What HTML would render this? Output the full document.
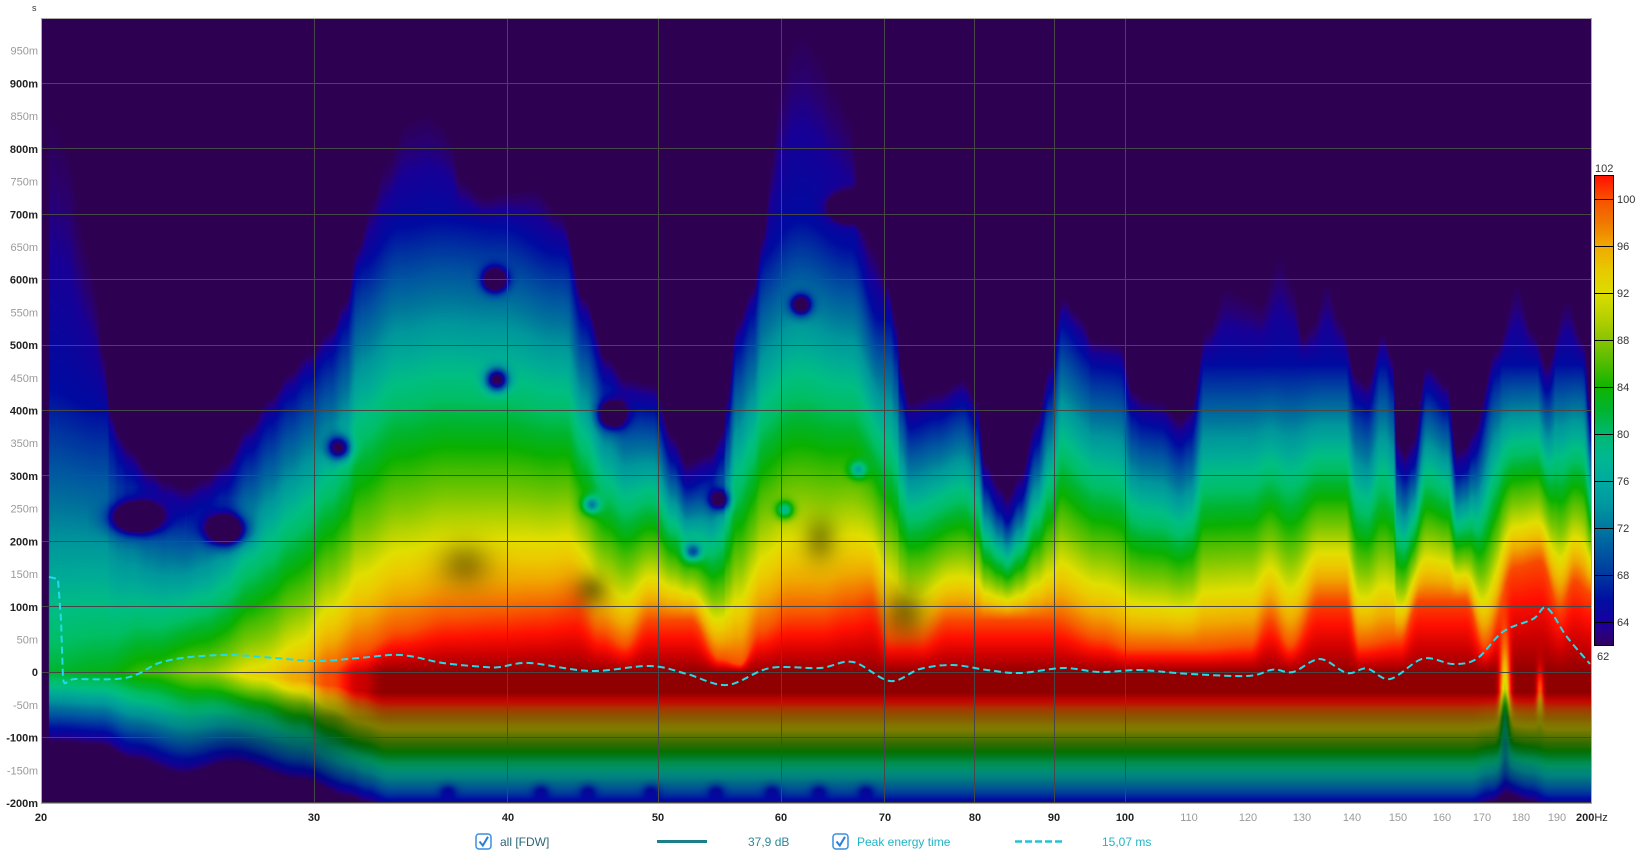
<!DOCTYPE html>
<html><head><meta charset="utf-8">
<style>
html,body{margin:0;padding:0;background:#fff;width:1649px;height:855px;overflow:hidden;}
#wrap{position:relative;width:1649px;height:855px;}
#c{position:absolute;left:41px;top:18px;background:#2e0052;}
svg{position:absolute;left:0;top:0;}
text{font-family:"Liberation Sans",sans-serif;}
</style></head>
<body><div id="wrap">
<canvas id="c" width="1551" height="785"></canvas>
<svg width="1649" height="855" viewBox="0 0 1649 855" xmlns="http://www.w3.org/2000/svg">
<defs>
<linearGradient id="cb" x1="0" y1="0" x2="0" y2="1">
<stop offset="0" stop-color="#ff1000"/>
<stop offset="0.05" stop-color="#f85000"/>
<stop offset="0.10" stop-color="#f07800"/>
<stop offset="0.15" stop-color="#f0a800"/>
<stop offset="0.20" stop-color="#e8c800"/>
<stop offset="0.25" stop-color="#dcdc00"/>
<stop offset="0.30" stop-color="#b8d000"/>
<stop offset="0.35" stop-color="#88c400"/>
<stop offset="0.40" stop-color="#50bc00"/>
<stop offset="0.45" stop-color="#10b400"/>
<stop offset="0.50" stop-color="#00b430"/>
<stop offset="0.55" stop-color="#00b870"/>
<stop offset="0.60" stop-color="#00b890"/>
<stop offset="0.65" stop-color="#00aaa0"/>
<stop offset="0.70" stop-color="#0098a0"/>
<stop offset="0.75" stop-color="#0078a0"/>
<stop offset="0.80" stop-color="#0058a0"/>
<stop offset="0.85" stop-color="#0038a0"/>
<stop offset="0.90" stop-color="#0010a0"/>
<stop offset="0.95" stop-color="#1800a0"/>
<stop offset="0.975" stop-color="#2a0080"/>
<stop offset="1" stop-color="#300060"/>
</linearGradient>
</defs>
<!-- gridlines -->
<g stroke="#474747" stroke-width="1" shape-rendering="crispEdges">
<line x1="41" x2="1592" y1="83.5" y2="83.5"/>
<line x1="41" x2="1592" y1="148.5" y2="148.5"/>
<line x1="41" x2="1592" y1="214.5" y2="214.5"/>
<line x1="41" x2="1592" y1="279.5" y2="279.5"/>
<line x1="41" x2="1592" y1="345.5" y2="345.5"/>
<line x1="41" x2="1592" y1="410.5" y2="410.5"/>
<line x1="41" x2="1592" y1="475.5" y2="475.5"/>
<line x1="41" x2="1592" y1="541.5" y2="541.5"/>
<line x1="41" x2="1592" y1="606.5" y2="606.5"/>
<line x1="41" x2="1592" y1="672.5" y2="672.5"/>
<line x1="41" x2="1592" y1="737.5" y2="737.5"/>
<line x1="41" x2="1592" y1="802.5" y2="802.5"/>
<line x1="314.5" x2="314.5" y1="18" y2="803"/>
<line x1="507.5" x2="507.5" y1="18" y2="803"/>
<line x1="658.5" x2="658.5" y1="18" y2="803"/>
<line x1="781.5" x2="781.5" y1="18" y2="803"/>
<line x1="884.5" x2="884.5" y1="18" y2="803"/>
<line x1="974.5" x2="974.5" y1="18" y2="803"/>
<line x1="1054.5" x2="1054.5" y1="18" y2="803"/>
<line x1="1125.5" x2="1125.5" y1="18" y2="803"/>
</g>
<!-- peak energy dashed line -->
<path id="pe" fill="none" stroke="#22dbe8" stroke-width="2" stroke-dasharray="7,4" stroke-linejoin="round"
d="M49,577 L59,579 L61,600 L63,679 L117,679 L159,663 L232,655 L317,661 L401,655 L485,667 L590,671 L650,666 L727,685 L770,668 L820,668 L853,662 L890,681 L953,665 L1063,668 L1247,676 L1320,659 L1390,679 L1477,658.6 L1547,608 L1590,664"/>
<!-- frame -->
<rect x="41.5" y="18.5" width="1550" height="785" fill="none" stroke="#ababab" stroke-width="1" shape-rendering="crispEdges"/>
<!-- unit -->
<text x="32" y="11" font-size="9" fill="#333">s</text>
<!-- y labels -->
<g font-size="11" text-anchor="end">
<text x="38" y="54.7" fill="#9a9a9a">950m</text>
<text x="38" y="87.4" fill="#222" font-weight="bold">900m</text>
<text x="38" y="120.1" fill="#9a9a9a">850m</text>
<text x="38" y="152.8" fill="#222" font-weight="bold">800m</text>
<text x="38" y="185.5" fill="#9a9a9a">750m</text>
<text x="38" y="218.3" fill="#222" font-weight="bold">700m</text>
<text x="38" y="251" fill="#9a9a9a">650m</text>
<text x="38" y="283.7" fill="#222" font-weight="bold">600m</text>
<text x="38" y="316.4" fill="#9a9a9a">550m</text>
<text x="38" y="349.1" fill="#222" font-weight="bold">500m</text>
<text x="38" y="381.8" fill="#9a9a9a">450m</text>
<text x="38" y="414.5" fill="#222" font-weight="bold">400m</text>
<text x="38" y="447.2" fill="#9a9a9a">350m</text>
<text x="38" y="479.9" fill="#222" font-weight="bold">300m</text>
<text x="38" y="512.6" fill="#9a9a9a">250m</text>
<text x="38" y="545.3" fill="#222" font-weight="bold">200m</text>
<text x="38" y="578.1" fill="#9a9a9a">150m</text>
<text x="38" y="610.8" fill="#222" font-weight="bold">100m</text>
<text x="38" y="643.5" fill="#9a9a9a">50m</text>
<text x="38" y="676.2" fill="#222" font-weight="bold">0</text>
<text x="38" y="708.9" fill="#9a9a9a">-50m</text>
<text x="38" y="741.6" fill="#222" font-weight="bold">-100m</text>
<text x="38" y="774.3" fill="#9a9a9a">-150m</text>
<text x="38" y="807" fill="#222" font-weight="bold">-200m</text>
</g>
<!-- x labels -->
<g font-size="11" text-anchor="middle">
<text x="41" y="821" fill="#222" font-weight="bold">20</text>
<text x="314" y="821" fill="#222" font-weight="bold">30</text>
<text x="508" y="821" fill="#222" font-weight="bold">40</text>
<text x="658" y="821" fill="#222" font-weight="bold">50</text>
<text x="781" y="821" fill="#222" font-weight="bold">60</text>
<text x="885" y="821" fill="#222" font-weight="bold">70</text>
<text x="975" y="821" fill="#222" font-weight="bold">80</text>
<text x="1054" y="821" fill="#222" font-weight="bold">90</text>
<text x="1125" y="821" fill="#222" font-weight="bold">100</text>
<text x="1189" y="821" fill="#9a9a9a">110</text>
<text x="1248" y="821" fill="#9a9a9a">120</text>
<text x="1302" y="821" fill="#9a9a9a">130</text>
<text x="1352" y="821" fill="#9a9a9a">140</text>
<text x="1398" y="821" fill="#9a9a9a">150</text>
<text x="1442" y="821" fill="#9a9a9a">160</text>
<text x="1482" y="821" fill="#9a9a9a">170</text>
<text x="1521" y="821" fill="#9a9a9a">180</text>
<text x="1557" y="821" fill="#9a9a9a">190</text>
</g>
<text x="1576" y="821" font-size="11" fill="#222" font-weight="bold">200<tspan font-weight="normal">Hz</tspan></text>
<!-- colorbar -->
<rect x="1594.5" y="175.5" width="19" height="470" fill="url(#cb)" stroke="#000" stroke-width="1"/>
<g stroke="#000" stroke-width="1" shape-rendering="crispEdges">
<line x1="1594" x2="1614" y1="199.5" y2="199.5"/>
<line x1="1594" x2="1614" y1="246.5" y2="246.5"/>
<line x1="1594" x2="1614" y1="293.5" y2="293.5"/>
<line x1="1594" x2="1614" y1="340.5" y2="340.5"/>
<line x1="1594" x2="1614" y1="387.5" y2="387.5"/>
<line x1="1594" x2="1614" y1="434.5" y2="434.5"/>
<line x1="1594" x2="1614" y1="481.5" y2="481.5"/>
<line x1="1594" x2="1614" y1="528.5" y2="528.5"/>
<line x1="1594" x2="1614" y1="575.5" y2="575.5"/>
<line x1="1594" x2="1614" y1="622.5" y2="622.5"/>
</g>
<g font-size="11" fill="#333">
<text x="1595" y="172">102</text>
<text x="1617" y="203">100</text>
<text x="1617" y="250">96</text>
<text x="1617" y="297">92</text>
<text x="1617" y="344">88</text>
<text x="1617" y="391">84</text>
<text x="1617" y="438">80</text>
<text x="1617" y="485">76</text>
<text x="1617" y="532">72</text>
<text x="1617" y="579">68</text>
<text x="1617" y="626">64</text>
<text x="1597" y="660">62</text>
</g>
<!-- legend -->
<rect x="476" y="834" width="15" height="15" rx="3" fill="#fff" stroke="#3a8ee0" stroke-width="1.5"/>
<path d="M479.5 841.5 L482.8 845.5 L488 836.8" fill="none" stroke="#2a7fd8" stroke-width="2"/>
<text x="500" y="846" font-size="12" fill="#2a6478">all [FDW]</text>
<line x1="657" x2="707" y1="841.5" y2="841.5" stroke="#1a7f88" stroke-width="3"/>
<text x="748" y="846" font-size="12" fill="#2a8898">37,9 dB</text>
<rect x="833" y="834" width="15" height="15" rx="3" fill="#fff" stroke="#3a8ee0" stroke-width="1.5"/>
<path d="M836.5 841.5 L839.8 845.5 L845 836.8" fill="none" stroke="#2a7fd8" stroke-width="2"/>
<text x="857" y="846" font-size="12" fill="#1fb5c5">Peak energy time</text>
<line x1="1015" x2="1063" y1="841.5" y2="841.5" stroke="#20c4d4" stroke-width="2.5" stroke-dasharray="7,3"/>
<text x="1102" y="846" font-size="12" fill="#1fb5c5">15,07 ms</text>
</svg>
</div>
<script>
(function(){
var W=1551,HH=785,K=0.65417;
function tY(y){return 1000-(y-18)/K;}
function ip(p,x){
  if(x<=p[0][0])return p[0][1];
  for(var i=1;i<p.length;i++){
    if(x<=p[i][0]){var a=p[i-1],b=p[i],f=(x-a[0])/(b[0]-a[0]),g=(1-Math.cos(f*Math.PI))/2;return a[1]+(b[1]-a[1])*g;}
  }
  return p[p.length-1][1];
}
/* smooth dashed line */
var pts=[[49,577],[58,579],[61,620],[63,679],[75,679],[117,679],[138,674],[159,663],[190,657],[232,655],[275,658],[317,661],[359,658],[401,655],[443,663],[485,667],[500,667],[530,663],[590,671],[650,666],[687,674],[727,685],[770,668],[820,668],[853,662],[890,681],[920,669],[953,665],[987,670],[1020,673],[1063,668],[1100,672],[1140,670],[1183,673.5],[1247,676],[1273,669.6],[1293,672],[1320,659],[1347,673],[1367,668.5],[1390,679],[1423,658.6],[1453,664],[1477,658.6],[1503,631.7],[1533,619],[1547,608],[1567,637],[1590,664]];
var dd="M"+pts[0][0]+","+pts[0][1];
for(var i=0;i<pts.length-1;i++){
  var p0=pts[Math.max(0,i-1)],p1=pts[i],p2=pts[i+1],p3=pts[Math.min(pts.length-1,i+2)];
  var tension=(i<3)?0:1/6;
  var c1x=p1[0]+(p2[0]-p0[0])*tension,c1y=p1[1]+(p2[1]-p0[1])*tension;
  var c2x=p2[0]-(p3[0]-p1[0])*tension,c2y=p2[1]-(p3[1]-p1[1])*tension;
  dd+=" C"+c1x.toFixed(1)+","+c1y.toFixed(1)+" "+c2x.toFixed(1)+","+c2y.toFixed(1)+" "+p2[0]+","+p2[1];
}
document.getElementById('pe').setAttribute('d',dd);

var Hy=[[49,110],[55,122],[62,135],[69,147],[74,180],[78,213],[86,245],[94,280],[103,347],[111,413],[120,435],[128,447],[150,470],[166,480],[186,487],[205,478],[224,463],[250,425],[270,397],[290,372],[308,353],[330,330],[346,300],[358,247],[372,200],[385,163],[408,120],[427,112],[440,122],[450,137],[461,180],[484,197],[510,192],[534,188],[561,213],[584,297],[607,357],[626,378],[653,383],[673,435],[687,461],[710,452],[723,431],[727,396],[737,323],[753,288],[763,236],[773,150],[780,85],[793,41],[803,33],[820,54],[833,85],[850,115],[855,150],[860,222],[873,245],[887,280],[897,323],[900,366],[910,401],[937,392],[963,379],[977,400],[985,460],[1000,485],[1007,496],[1020,474],[1037,418],[1050,366],[1063,297],[1080,314],[1093,340],[1110,342],[1120,344],[1133,390],[1143,398],[1160,401],[1180,419],[1190,410],[1207,330],[1227,287],[1247,297],[1260,305],[1280,255],[1293,283],[1303,337],[1313,323],[1327,280],[1340,319],[1357,376],[1367,383],[1383,333],[1393,358],[1397,440],[1405,452],[1413,440],[1427,365],[1447,383],[1457,450],[1466,445],[1473,430],[1497,348],[1517,283],[1533,330],[1547,365],[1567,297],[1583,340],[1592,412]];
var Hp=Hy.map(function(q){return [q[0],tY(q[1])];});
var Rp=[[49,0],[330,0],[360,30],[400,60],[450,80],[500,85],[540,90],[575,100],[600,60],[625,40],[650,80],[690,80],[720,20],[740,12],[760,60],[790,85],[820,85],[850,100],[870,110],[890,50],[920,50],[950,80],[1050,80],[1100,50],[1130,35],[1200,35],[1250,40],[1270,80],[1290,40],[1320,110],[1345,110],[1360,40],[1400,50],[1420,110],[1465,110],[1485,40],[1515,160],[1540,170],[1560,100],[1575,140],[1592,120]];
var Mp=[[49,82],[100,83],[150,86],[200,89],[260,93],[300,96],[330,100],[360,104],[385,106],[1592,106]];
var Bp=[[49,108],[60,108],[100,112],[133,134],[183,157],[233,139],[300,165],[350,191],[367,200],[390,212],[1470,212],[1490,200],[1508,188],[1530,198],[1550,210],[1592,210]];
var Cp=[[49,430],[100,400],[150,330],[200,300],[260,420],[300,500],[360,620],[400,680],[440,690],[500,680],[560,640],[600,560],[650,480],[700,500],[750,620],[800,690],[850,650],[880,540],[950,480],[1000,420],[1050,540],[1100,470],[1150,440],[1200,470],[1592,470]];
var stops=[[60,46,0,82],[62,46,0,82],[63,42,0,110],[64,24,0,150],[66,0,10,160],[68,0,50,160],[70,0,85,160],[72,0,115,155],[74,0,150,155],[76,0,170,150],[78,0,190,130],[80,0,190,100],[82,0,180,45],[84,10,176,0],[86,70,188,0],[88,120,198,0],[90,175,210,0],[92,225,222,0],[94,236,200,0],[96,240,168,0],[98,244,120,0],[100,248,75,0],[102,255,15,0],[104,205,0,0],[106,145,0,0],[112,120,0,0]];
var N=1041,lr=new Float32Array(N),lg=new Float32Array(N),lb=new Float32Array(N);
for(var i=0;i<N;i++){var L=60+i*0.05;
  if(L<62){lr[i]=46;lg[i]=0;lb[i]=82;continue;}
  for(var j=1;j<stops.length;j++){if(L<=stops[j][0]){var a=stops[j-1],b=stops[j],f=(L-a[0])/(b[0]-a[0]);lr[i]=a[1]+(b[1]-a[1])*f;lg[i]=a[2]+(b[2]-a[2])*f;lb[i]=a[3]+(b[3]-a[3])*f;break;}}
}
var Dp=[[0,1],[-25,1],[-50,0.72],[-70,0.56],[-110,0.56],[-135,0.72],[-165,0.85],[-190,1],[-300,1]];
function dk(t){if(t>=-25)return 1;for(var i=1;i<Dp.length;i++){if(t>=Dp[i][0]){var a=Dp[i-1],b=Dp[i],f=(t-a[0])/(b[0]-a[0]);return a[1]+(b[1]-a[1])*f;}}return 1;}
var Larr=new Float32Array(W*HH),Dk=new Float32Array(W*HH),tv=new Float32Array(HH),dtv=new Float32Array(HH),colW=new Float32Array(W);
for(var py=0;py<HH;py++){tv[py]=1000-(py+0.5)/K;dtv[py]=dk(tv[py]);}
for(var px=0;px<W;px++){var x=41+px+0.5;
  var Ht=ip(Hp,x),Rt=ip(Rp,x),Lm=ip(Mp,x),Bd=ip(Bp,x),Cap=ip(Cp,x);
  colW[px]=Math.max(0,Math.min(1,(Lm-84)/16));
  var hi=Lm>100;
  var t0=hi?Rt:0,Lr=hi?100:Lm;
  var Hb=Math.min(Ht-40,Cap);if(Hb<t0+20)Hb=t0+20;
  var P=Math.max(0,Math.min(30,(Lm-90)*2));
  for(var py=0;py<HH;py++){
    var t=tv[py],L;
    if(x<49){L=50;}
    else if(t>=0){
      if(hi&&t<Rt){L=Lm-(Lm-100)*(t/Rt);}
      else if(t<=Hb){var r=(t-t0)/(Hb-t0);if(r<0)r=0;L=Lr-(Lr-66)*Math.pow(r,0.9);}
      else{L=66-4*(t-Hb)/Math.max(1,(Ht-Hb));}
    } else {
      var u=Math.max(0,(-t-P))/(Bd-P);
      L=Lm-(Lm-62)*u;
    }
    Larr[py*W+px]=L;Dk[py*W+px]=1;
  }
}
function hole(cx,cy,sx,sy,d){
  var x0=Math.max(0,Math.floor(cx-41-3*sx)),x1=Math.min(W-1,Math.ceil(cx-41+3*sx));
  var y0=Math.max(0,Math.floor(cy-18-3*sy)),y1=Math.min(HH-1,Math.ceil(cy-18+3*sy));
  for(var py=y0;py<=y1;py++)for(var px=x0;px<=x1;px++){
    var dx=(px+41.5-cx)/sx,dy=(py+18.5-cy)/sy;
    Larr[py*W+px]-=d*Math.exp(-(dx*dx+dy*dy)/2);
  }
}
function dark(cx,cy,sx,sy,k){
  var x0=Math.max(0,Math.floor(cx-41-3*sx)),x1=Math.min(W-1,Math.ceil(cx-41+3*sx));
  var y0=Math.max(0,Math.floor(cy-18-3*sy)),y1=Math.min(HH-1,Math.ceil(cy-18+3*sy));
  for(var py=y0;py<=y1;py++)for(var px=x0;px<=x1;px++){
    var dx=(px+41.5-cx)/sx,dy=(py+18.5-cy)/sy;
    Dk[py*W+px]*=1-k*Math.exp(-(dx*dx+dy*dy)/2);
  }
}
hole(136,518,16,10,22);hole(226,530,13,10,22);
hole(495,280,8,8,18);hole(497,380,8,8,18);hole(339,448,8,8,16);
hole(612,415,9,9,18);hole(801,305,7,7,16);hole(720,500,7,7,14);
hole(693,552,6,6,12);hole(591,505,6,6,12);hole(850,208,13,9,14);
hole(785,510,6,6,12);hole(858,470,6,6,10);
/* narrow streaks near 175 / 185 Hz */
hole(1505,700,3.5,38,16);hole(1540,695,2.5,18,7);
var bx=[448,541,588,651,716,772,819,866];
for(var i=0;i<bx.length;i++)hole(bx[i],790,6,5,4);
dark(465,565,18,16,0.35);dark(592,590,12,12,0.4);dark(905,612,14,18,0.4);dark(820,540,12,16,0.35);
var cv=document.getElementById('c'),ctx=cv.getContext('2d'),img=ctx.createImageData(W,HH),d=img.data;
for(var py=0;py<HH;py++){var dt=dtv[py];
  for(var px=0;px<W;px++){var k=py*W+px,L=Larr[k];
    var ii=Math.round((L-60)*20);if(ii<0)ii=0;if(ii>N-1)ii=N-1;
    var f=(L<62)?1:(1-(1-dt)*colW[px])*Dk[k];
    var o=k*4;d[o]=lr[ii]*f;d[o+1]=lg[ii]*f;d[o+2]=lb[ii]*f;d[o+3]=255;
  }
}
ctx.putImageData(img,0,0);
})();
</script>
</body></html>
